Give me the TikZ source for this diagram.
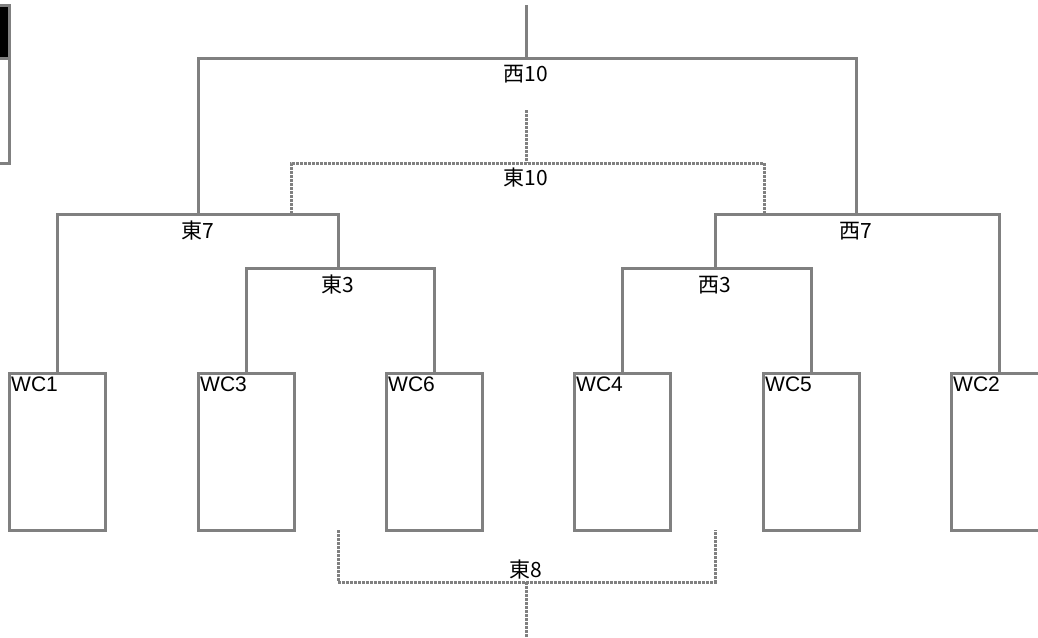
\documentclass[tikz,border=0pt]{standalone}
\usepackage{fontspec}
\setmainfont{Liberation Sans}
\newfontfamily\jp{Noto Sans CJK JP}
\begin{document}
\begin{tikzpicture}[x=1pt,y=-1pt,
  ln/.style={draw=gray,line width=3pt},
  dotln/.style={draw=gray,line width=3pt,dash pattern=on 3pt off 1pt},
  wc/.style={draw=gray,line width=3pt,fill=white,minimum width=96pt,minimum height=157pt,anchor=north west,inner sep=0pt},
  wclab/.style={anchor=north west,inner sep=0pt,font=\fontsize{21}{23}\selectfont,xshift=3pt,yshift=-5pt},
  lab/.style={anchor=base,inner sep=0pt,font=\jp\fontsize{21}{23}\selectfont}]
\useasboundingbox (0,0) rectangle (1038,637);
% top-left partial box
\fill[black] (-5,5) rectangle (9,58);
\draw[ln] (-5,58) -- (9,58);
\draw[ln] (-5,5) rectangle (9.5,163);
% boxes
\node[wc] (wc1) at (8,372) {};
\node[wc] (wc3) at (197,372) {};
\node[wc] (wc6) at (385,372) {};
\node[wc] (wc4) at (573,372) {};
\node[wc] (wc5) at (762,372) {};
\node[wc] (wc2) at (950,372) {};
\node[wclab] at (wc1.north west) {WC1};
\node[wclab] at (wc3.north west) {WC3};
\node[wclab] at (wc6.north west) {WC6};
\node[wclab] at (wc4.north west) {WC4};
\node[wclab] at (wc5.north west) {WC5};
\node[wclab] at (wc2.north west) {WC2};
% junctions
\coordinate (top) at (526,5);
\coordinate (w10) at (526,58);
\coordinate (e7) at (198,214);
\coordinate (w7) at (856,214);
\coordinate (e3) at (338,268);
\coordinate (w3) at (715,268);
\coordinate (e10top) at (526,110);
\coordinate (e10) at (526,163);
\coordinate (e10l) at (291,214);
\coordinate (e10r) at (764,214);
\coordinate (e8l) at (338,530);
\coordinate (e8r) at (715,530);
\coordinate (e8) at (526,582);
\coordinate (e8bot) at (526,640);
% solid tree
\draw[ln] (top) -- (w10);
\draw[ln] (e7) |- (w10) -| (w7);
\draw[ln] (wc1.north) |- (e7) -| (e3);
\draw[ln] (wc3.north) |- (e3) -| (wc6.north);
\draw[ln] (w3) |- (w7) -| (wc2.north);
\draw[ln] (wc4.north) |- (w3) -| (wc5.north);
% dotted
\draw[dotln] (e10top) -- (e10);
\draw[dotln] (e10l) |- (e10) -| (e10r);
\draw[dotln] (e8l) |- (e8) -| (e8r);
\draw[dotln] (e8) -- (e8bot);
% labels
\node[lab] (l10w) at ([yshift=-23pt]w10) {西10};
\node[lab] (l10e) at ([yshift=-22pt]e10) {東10};
\node[lab] (l7e) at ([yshift=-24pt]e7) {東7};
\node[lab] (l7w) at ([yshift=-24pt]w7) {西7};
\node[lab] (l3e) at ([yshift=-24pt]e3) {東3};
\node[lab] (l3w) at ([yshift=-24pt]w3) {西3};
\node[lab] (l8e) at ([yshift=5pt]e8) {東8};
\end{tikzpicture}
\end{document}
